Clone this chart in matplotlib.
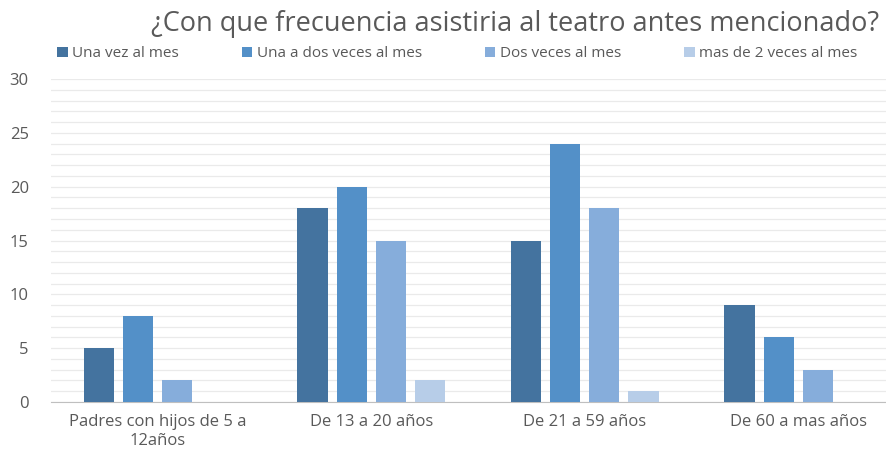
import matplotlib
matplotlib.use("Agg")
import matplotlib.pyplot as plt
import numpy as np

categories = ["Padres con hijos de 5 a\n12años", "De 13 a 20 años",
              "De 21 a 59 años", "De 60 a mas años"]
series_names = ["Una vez al mes", "Una a dos veces al mes",
                "Dos veces al mes", "mas de 2 veces al mes"]
una_vez = [5, 18, 15, 9]
una_a_dos = [8, 20, 24, 6]
dos_veces = [2, 15, 18, 3]
mas_de_2 = [0, 2, 1, 0]
colors = ["#44739F", "#5390C8", "#86ADDB", "#B7CDE8"]

plt.rcParams['font.family'] = ['Open Sans', 'DejaVu Sans']

fig = plt.figure(figsize=(8.86, 4.57), dpi=100)
ax = fig.add_axes([51/886, 1 - 402/457, 854/886, (402 - 79)/457])

x = np.arange(len(categories))
step = 0.183
width = 0.142
for i, (vals, name) in enumerate(zip([una_vez, una_a_dos, dos_veces, mas_de_2], series_names)):
    ax.bar(x + (i - 1.5) * step, vals, width, color=colors[i], label=name, zorder=3)

ax.set_xlim(-0.5, 3.5)
ax.set_ylim(0, 30)
ax.set_yticks(range(0, 31, 5))
ax.set_yticks(range(0, 31, 1), minor=True)
ax.grid(True, which='both', axis='y', color='#EAEAEA', linewidth=0.9, zorder=0)
ax.set_xticks(x)
ax.set_xticklabels(categories)
ax.tick_params(axis='x', length=0, labelsize=12, colors='#595959', pad=9)
ax.tick_params(axis='y', length=0, labelsize=12, colors='#595959', pad=16)
ax.tick_params(axis='y', which='minor', length=0)
for s in ['top', 'right', 'left']:
    ax.spines[s].set_visible(False)
ax.spines['bottom'].set_color('#BFBFBF')

fig.text(0.581, 0.948, "¿Con que frecuencia asistiria al teatro antes mencionado?",
         ha='center', va='center', fontsize=19.5, color='#595959')
fig.legend(loc='center', bbox_to_anchor=(0.516, 0.882), ncol=4, frameon=False,
           handlelength=0.7, handleheight=0.7, handletextpad=0.3,
           columnspacing=4.1, fontsize=11, labelcolor='#595959')

fig.savefig("out.png", dpi=100)
